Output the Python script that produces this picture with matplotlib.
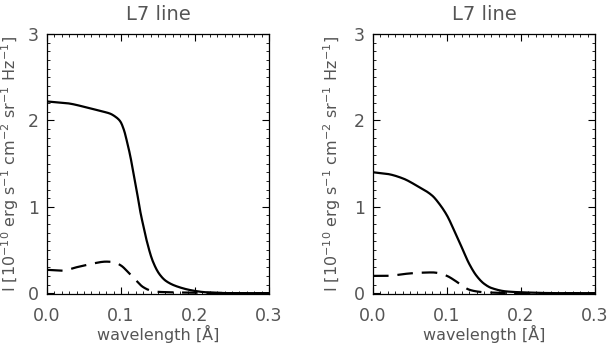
import matplotlib
matplotlib.use("Agg")
import matplotlib.pyplot as plt
from matplotlib.ticker import MultipleLocator
import numpy as np

# left panel
x_left_solid = [0.0, 0.027, 0.054, 0.072, 0.085, 0.093, 0.099, 0.104, 0.108, 0.113, 0.117, 0.122,
                0.126, 0.131, 0.135, 0.143, 0.152, 0.161, 0.175, 0.197, 0.215, 0.25, 0.3]
y_left_solid = [2.22, 2.20, 2.15, 2.11, 2.08, 2.04, 1.99, 1.89, 1.76, 1.57, 1.38, 1.15,
                0.95, 0.75, 0.60, 0.37, 0.22, 0.14, 0.08, 0.03, 0.01, 0.0, 0.0]
x_left_dash = [0.0, 0.02, 0.04, 0.06, 0.08, 0.09, 0.10, 0.11, 0.12, 0.13, 0.14, 0.15, 0.2, 0.25, 0.3]
y_left_dash = [0.27, 0.26, 0.30, 0.34, 0.365, 0.36, 0.32, 0.24, 0.15, 0.07, 0.03, 0.015, 0.005, 0.0, 0.0]

# right panel
x_right_solid = [0.0, 0.02, 0.04, 0.06, 0.08, 0.09, 0.10, 0.11, 0.12, 0.13, 0.14, 0.15,
                 0.16, 0.18, 0.2, 0.25, 0.3]
y_right_solid = [1.40, 1.38, 1.33, 1.24, 1.13, 1.03, 0.90, 0.72, 0.53, 0.34, 0.20, 0.11,
                 0.06, 0.02, 0.01, 0.0, 0.0]
x_right_dash = [0.0, 0.02, 0.04, 0.06, 0.08, 0.09, 0.10, 0.11, 0.12, 0.13, 0.14, 0.15, 0.2, 0.3]
y_right_dash = [0.20, 0.20, 0.22, 0.235, 0.24, 0.23, 0.20, 0.15, 0.09, 0.04, 0.02, 0.01, 0.0, 0.0]

title = "L7 line"
xlabel = "wavelength [Å]"
ylabel = r"I [10$^{-10}$ erg s$^{-1}$ cm$^{-2}$ sr$^{-1}$ Hz$^{-1}$]"
xticks = [0.0, 0.1, 0.2, 0.3]
xticklabels = ["0.0", "0.1", "0.2", "0.3"]
yticks = [0, 1, 2, 3]

txtc = "#555555"
fig = plt.figure(figsize=(6.08, 3.47), dpi=100)
positions = [[0.0773, 0.1527, 0.365, 0.749], [0.6135, 0.1527, 0.365, 0.749]]
panels = [(x_left_solid, y_left_solid, x_left_dash, y_left_dash),
          (x_right_solid, y_right_solid, x_right_dash, y_right_dash)]

def smooth(x, y):
    xs = np.linspace(min(x), max(x), 400)
    x = np.asarray(x, float); y = np.asarray(y, float)
    h = np.diff(x); d = np.diff(y) / h
    m = np.zeros_like(y)
    for k in range(1, len(x) - 1):
        if d[k-1] * d[k] > 0:
            w1 = 2*h[k] + h[k-1]; w2 = h[k] + 2*h[k-1]
            m[k] = (w1 + w2) / (w1/d[k-1] + w2/d[k])
    m[0] = d[0]; m[-1] = d[-1]
    idx = np.clip(np.searchsorted(x, xs) - 1, 0, len(x) - 2)
    t = (xs - x[idx]) / h[idx]
    h00 = 2*t**3 - 3*t**2 + 1; h10 = t**3 - 2*t**2 + t
    h01 = -2*t**3 + 3*t**2; h11 = t**3 - t**2
    ys = h00*y[idx] + h10*h[idx]*m[idx] + h01*y[idx+1] + h11*h[idx]*m[idx+1]
    return xs, ys

label_x = [-0.118, -0.135]
for i, (pos, (xs_, ys_, xd, yd)) in enumerate(zip(positions, panels)):
    ax = fig.add_axes(pos)
    a, b = smooth(xs_, ys_)
    ax.plot(a, b, color="black", lw=1.6)
    a, b = smooth(xd, yd)
    ax.plot(a, b, color="black", lw=1.6, dashes=(7, 4))
    ax.set_xlim(0, 0.3)
    ax.set_ylim(-0.01, 3)
    ax.set_xticks(xticks)
    ax.set_xticklabels(xticklabels)
    ax.set_yticks(yticks)
    ax.xaxis.set_minor_locator(MultipleLocator(0.01))
    ax.yaxis.set_minor_locator(MultipleLocator(0.1))
    ax.tick_params(which="both", direction="in", top=True, right=True,
                   labelsize=12.5, labelcolor=txtc, color="black")
    ax.tick_params(which="major", length=5, width=0.8)
    ax.tick_params(which="minor", length=2.5, width=0.6)
    ax.tick_params(axis="x", pad=9)
    ax.tick_params(axis="y", pad=6)
    ax.set_title(title, fontsize=14, color=txtc, pad=10)
    ax.set_xlabel(xlabel, fontsize=11.5, color=txtc, labelpad=0)
    ax.set_ylabel(ylabel, fontsize=11.5, color=txtc)
    ax.yaxis.set_label_coords(label_x[i], 0.5)
    for s in ax.spines.values():
        s.set_linewidth(0.9)

fig.savefig("out.png", dpi=100)
